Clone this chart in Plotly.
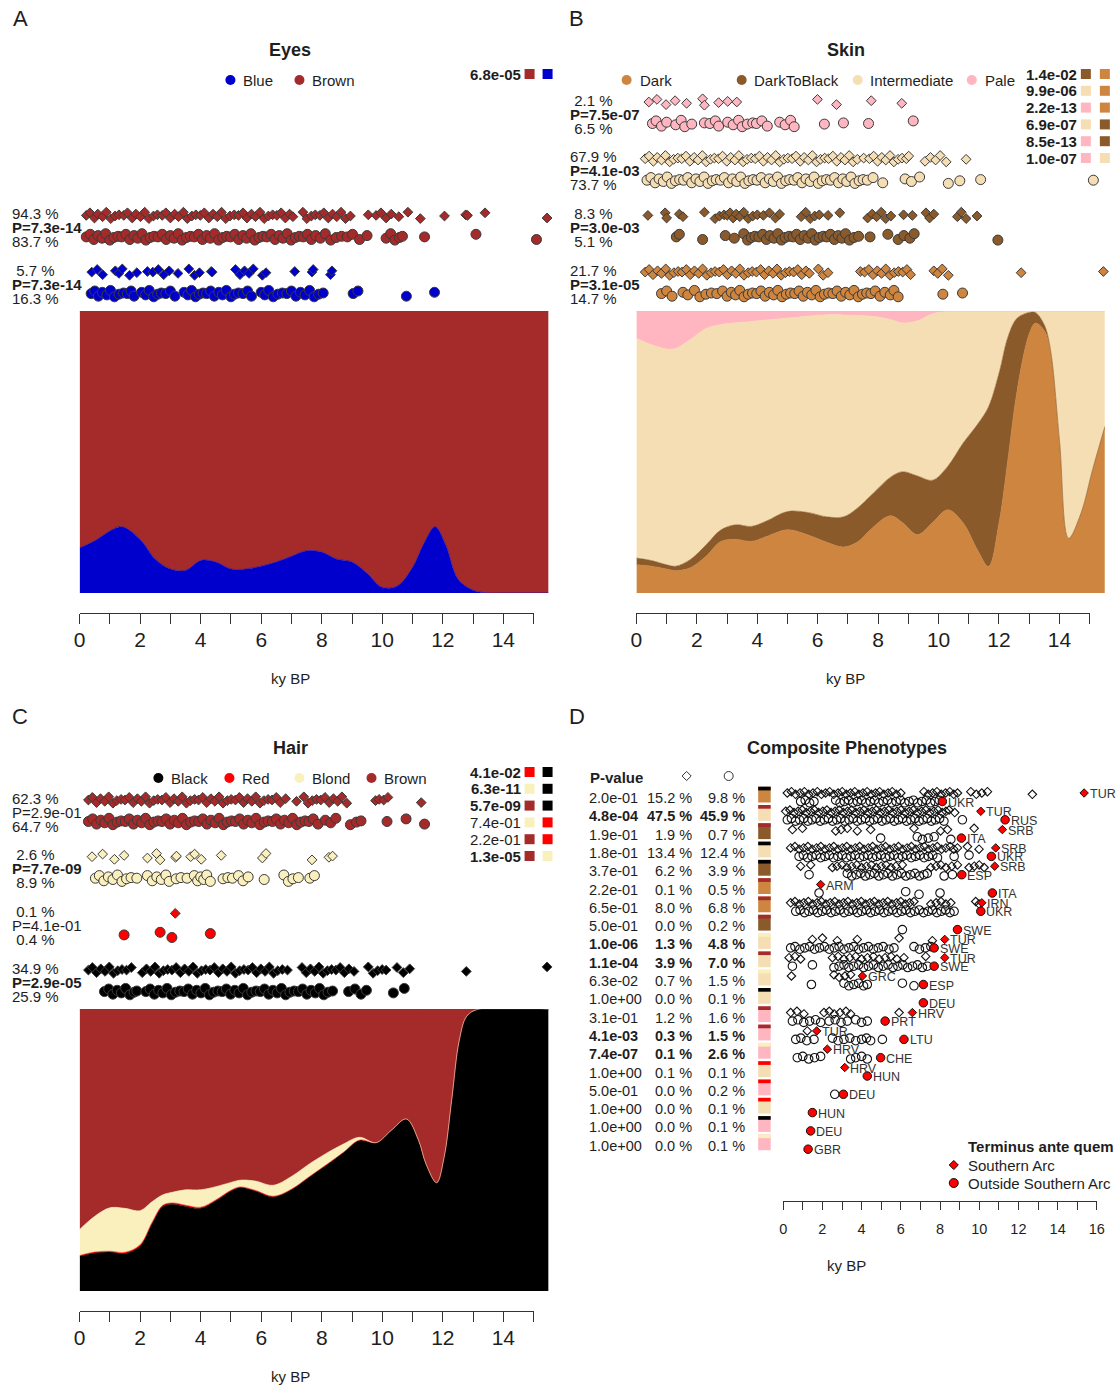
import plotly.graph_objects as go

W, H = 1120, 1386
# horizontal calibration of the rendered page (screen_x = SX * figure_x + OX)
SX, OX = 0.987, 5.7
FONT = "Liberation Sans, Arial, Helvetica, sans-serif"
TXT = "#1e1e1e"
LINE = "#333333"
EDGE = "#3a3a3a"

# ======================= DATA =======================
EYE_COL = {"Blue": "#0000CD", "Brown": "#A52A2A"}
SKIN_COL = {"Dark": "#CD853F", "DarkToBlack": "#8B5A2B", "Intermediate": "#F5DEB3", "Pale": "#FFB6C1"}
HAIR_COL = {"Black": "#000000", "Red": "#FF0000", "Blond": "#FAF0BE", "Brown": "#A52A2A"}

# ---- A: Eyes, proportion over time (ky BP) ----
eye_grid = [0, 0.5, 1.0, 1.4, 2.0, 2.5, 3.0, 3.5, 4.0, 4.5, 5.0, 5.5, 6.0, 6.5, 7.0, 7.5, 8.0, 8.5, 9.0, 9.5,
            10.0, 10.5, 11.0, 11.4, 11.75, 12.1, 12.5, 13.0, 13.5, 14.0, 15.5]
eye_blue_prop = [0.16, 0.185, 0.22, 0.235, 0.19, 0.12, 0.085, 0.08, 0.115, 0.11, 0.085, 0.085, 0.095, 0.11, 0.13,
                 0.15, 0.145, 0.12, 0.11, 0.07, 0.02, 0.025, 0.09, 0.18, 0.235, 0.17, 0.05, 0.01, 0.0, 0.0, 0.0]

eye_cats = ["Brown", "Blue"]
eye_pct_dia = [94.3, 5.7]
eye_pct_circ = [83.7, 16.3]
eye_p = [7.3e-14, 7.3e-14]
eye_dia = [
    [0.22, 0.34, 0.49, 0.6, 0.76, 0.88, 1.03, 1.17, 1.3, 1.46, 1.58, 1.74, 1.86, 2.01, 2.15, 2.29, 2.44, 2.57, 2.73,
     2.85, 3.0, 3.14, 3.27, 3.43, 3.56, 3.71, 3.84, 3.99, 4.12, 4.27, 4.41, 4.55, 4.69, 4.83, 4.97, 5.11, 5.25, 5.4,
     5.53, 5.68, 5.81, 5.96, 6.1, 6.24, 6.38, 6.52, 6.66, 6.8, 6.94, 7.05, 7.38, 7.51, 7.66, 7.79, 7.94, 8.07, 8.22,
     8.36, 8.5, 8.64, 8.79, 8.95, 9.54, 9.8, 9.96, 10.13, 10.3, 10.55, 10.85, 11.26, 12.06, 12.76, 12.82, 13.4, 15.45],
    [0.40, 0.58, 0.76, 1.18, 1.3, 1.41, 1.65, 1.89, 2.24, 2.42, 2.6, 2.78, 2.96, 3.25, 3.61, 3.8, 3.96, 4.35, 4.38,
     5.15, 5.3, 5.45, 5.6, 5.74, 6.04, 6.16, 7.11, 7.68, 7.72, 8.29, 8.34],
]
eye_circ = [
    [0.22, 0.35, 0.47, 0.61, 0.74, 0.86, 1.0, 1.13, 1.27, 1.39, 1.53, 1.66, 1.8, 1.92, 2.06, 2.19, 2.33, 2.46, 2.59,
     2.73, 2.86, 3.0, 3.12, 3.26, 3.39, 3.53, 3.66, 3.79, 3.93, 4.06, 4.2, 4.32, 4.46, 4.59, 4.73, 4.86, 4.99, 5.13,
     5.26, 5.4, 5.52, 5.66, 5.79, 5.93, 6.06, 6.19, 6.33, 6.46, 6.6, 6.72, 6.86, 6.99, 7.13, 7.26, 7.39, 7.53, 7.66,
     7.8, 7.96, 8.12, 8.3, 8.48, 8.66, 8.85, 9.02, 9.25, 9.5, 10.13, 10.28, 10.42, 10.57, 10.67, 11.4, 13.1, 15.1],
    [0.38, 0.5, 0.62, 0.75, 0.9, 1.02, 1.15, 1.3, 1.45, 1.58, 1.7, 1.8, 2.05, 2.18, 2.3, 2.45, 2.58, 2.7, 2.85, 3.0,
     3.15, 3.45, 3.58, 3.7, 3.83, 3.95, 4.08, 4.2, 4.33, 4.45, 4.6, 4.72, 4.85, 5.0, 5.12, 5.25, 5.4, 5.55, 5.68, 6.0,
     6.12, 6.25, 6.4, 6.55, 6.7, 6.85, 7.0, 7.15, 7.3, 7.45, 7.6, 7.75, 7.9, 8.05, 9.04, 9.2, 10.8, 11.73],
]
eye_pair_p = [6.8e-05]
eye_pairs = [("Brown", "Blue")]

# ---- B: Skin ----
skin_grid = [0, 0.5, 1.0, 1.3, 1.8, 2.3, 2.8, 3.3, 3.8, 4.3, 5.0, 5.7, 6.3, 6.85, 7.3, 7.8, 8.4, 8.8, 9.3, 9.8,
             10.3, 10.8, 11.3, 11.65, 12.0, 12.3, 12.6, 13.0, 13.2, 13.5, 13.7, 14.0, 14.3, 14.7, 15.1, 15.5]
skin_dark_prop = [0.10, 0.095, 0.085, 0.079, 0.09, 0.13, 0.183, 0.19, 0.183, 0.20, 0.224, 0.205, 0.18, 0.163, 0.18,
                  0.23, 0.274, 0.25, 0.207, 0.25, 0.295, 0.25, 0.15, 0.094, 0.25, 0.48, 0.72, 0.92, 0.957, 0.93,
                  0.86, 0.54, 0.194, 0.28, 0.44, 0.59]
skin_dtb_prop = [0.024, 0.02, 0.015, 0.016, 0.03, 0.04, 0.041, 0.052, 0.053, 0.055, 0.065, 0.08, 0.09, 0.107, 0.12,
                 0.12, 0.136, 0.18, 0.208, 0.15, 0.154, 0.28, 0.45, 0.566, 0.53, 0.43, 0.255, 0.075, 0.038, 0.02,
                 0.003, 0.0, 0.0, 0.0, 0.0, 0.0]
skin_pale_prop = [0.097, 0.12, 0.135, 0.133, 0.10, 0.062, 0.048, 0.042, 0.037, 0.032, 0.025, 0.018, 0.013, 0.014,
                  0.016, 0.019, 0.03, 0.042, 0.035, 0.01, 0.002, 0, 0, 0, 0, 0, 0, 0, 0, 0, 0, 0, 0, 0, 0, 0]

skin_cats = ["Pale", "Intermediate", "DarkToBlack", "Dark"]
skin_pct_dia = [2.1, 67.9, 8.3, 21.7]
skin_pct_circ = [6.5, 73.7, 5.1, 14.7]
skin_p = [7.5e-07, 4.1e-03, 3.0e-03, 3.1e-05]
skin_dia = [
    [0.41, 0.68, 0.98, 1.28, 1.66, 2.19, 2.25, 2.72, 3.02, 3.32, 5.99, 6.62, 7.77, 8.78],
    [0.29, 0.42, 0.56, 0.69, 0.83, 0.96, 1.1, 1.23, 1.37, 1.5, 1.64, 1.77, 1.91, 2.04, 2.18, 2.31, 2.45, 2.58, 2.72,
     2.85, 2.99, 3.12, 3.26, 3.39, 3.53, 3.66, 3.8, 3.93, 4.07, 4.2, 4.34, 4.47, 4.61, 4.74, 4.88, 5.01, 5.15, 5.28,
     5.42, 5.55, 5.69, 5.82, 5.96, 6.09, 6.23, 6.36, 6.5, 6.63, 6.77, 6.9, 7.04, 7.17, 7.31, 7.52, 7.71, 7.85, 7.98,
     8.12, 8.25, 8.39, 8.52, 8.66, 8.79, 8.93, 9.01, 9.55, 9.73, 9.9, 10.05, 10.25, 10.91],
    [0.38, 0.95, 1.0, 1.42, 1.54, 2.25, 2.6, 2.75, 2.9, 3.0, 3.1, 3.2, 3.3, 3.42, 3.55, 3.7, 3.85, 4.0, 4.2, 4.4, 4.6,
     4.74, 5.45, 5.6, 5.75, 5.9, 6.05, 6.34, 6.73, 7.65, 7.8, 7.95, 8.1, 8.25, 8.42, 8.84, 9.13, 9.58, 9.7, 9.84,
     10.62, 10.75, 10.91, 11.27],
    [0.29, 0.42, 0.55, 0.7, 0.83, 0.97, 1.1, 1.24, 1.38, 1.51, 1.65, 1.78, 1.92, 2.06, 2.19, 2.33, 2.47, 2.6, 2.74,
     2.88, 3.01, 3.15, 3.29, 3.42, 3.56, 3.7, 3.83, 3.97, 4.11, 4.24, 4.38, 4.52, 4.65, 4.79, 4.93, 5.06, 5.2, 5.34,
     5.47, 5.61, 5.72, 6.02, 6.18, 6.34, 7.41, 7.55, 7.69, 7.83, 7.97, 8.11, 8.25, 8.39, 8.53, 8.67, 8.81, 8.95, 9.07,
     9.84, 9.97, 10.12, 10.32, 12.73, 15.45],
]
skin_circ = [
    [0.53, 0.65, 0.83, 1.0, 1.3, 1.48, 1.6, 1.83, 2.25, 2.43, 2.61, 2.72, 3.02, 3.2, 3.38, 3.5, 3.67, 3.85, 3.97, 4.15,
     4.33, 4.74, 4.92, 5.1, 5.22, 6.22, 6.85, 7.68, 9.16],
    [0.35, 0.48, 0.62, 0.75, 0.89, 1.02, 1.16, 1.29, 1.43, 1.56, 1.7, 1.83, 1.97, 2.1, 2.24, 2.37, 2.51, 2.64, 2.78,
     2.91, 3.05, 3.18, 3.32, 3.45, 3.59, 3.72, 3.86, 3.99, 4.13, 4.26, 4.4, 4.53, 4.67, 4.8, 4.94, 5.07, 5.21, 5.34,
     5.48, 5.61, 5.75, 5.88, 6.02, 6.15, 6.29, 6.42, 6.56, 6.69, 6.83, 6.96, 7.1, 7.23, 7.37, 7.5, 7.64, 7.83, 8.15,
     8.89, 9.1, 9.37, 10.32, 10.7, 11.39, 15.12],
    [1.32, 1.42, 2.19, 2.94, 3.24, 3.55, 3.68, 3.8, 3.92, 4.05, 4.18, 4.3, 4.42, 4.55, 4.68, 4.8, 4.92, 5.05, 5.18, 5.3,
     5.42, 5.55, 5.68, 5.8, 5.92, 6.05, 6.18, 6.3, 6.42, 6.55, 6.68, 6.8, 6.92, 7.05, 7.2, 7.35, 7.73, 8.32, 8.66,
     8.85, 9.05, 9.19, 11.96],
    [0.83, 1.0, 1.18, 1.54, 1.7, 1.92, 2.1, 2.3, 2.48, 2.66, 2.85, 3.0, 3.14, 3.28, 3.42, 3.56, 3.7, 3.84, 3.98, 4.12,
     4.26, 4.4, 4.54, 4.68, 4.82, 4.96, 5.1, 5.24, 5.38, 5.52, 5.66, 5.8, 5.94, 6.08, 6.22, 6.36, 6.5, 6.64, 6.78,
     6.92, 7.06, 7.2, 7.34, 7.48, 7.62, 7.76, 7.9, 8.06, 8.22, 8.4, 8.52, 8.66, 10.14, 10.79],
]
skin_pair_p = [1.4e-02, 9.9e-06, 2.2e-13, 6.9e-07, 8.5e-13, 1.0e-07]
skin_pairs = [("DarkToBlack", "Dark"), ("Intermediate", "Dark"), ("Pale", "Dark"),
              ("Intermediate", "DarkToBlack"), ("Pale", "DarkToBlack"), ("Pale", "Intermediate")]

# ---- C: Hair ----
hair_grid = [0, 0.5, 1.0, 1.5, 2.0, 2.4, 2.75, 3.1, 3.5, 4.0, 4.5, 5.0, 5.3, 5.8, 6.4, 7.0, 7.6, 8.2, 8.7, 9.25,
             9.8, 10.3, 10.8, 11.2, 11.45, 11.8, 12.05, 12.3, 12.55, 12.8, 13.2, 15.5]
hair_black_prop = [0.123, 0.135, 0.138, 0.133, 0.16, 0.24, 0.30, 0.308, 0.30, 0.293, 0.32, 0.355, 0.367, 0.355,
                   0.334, 0.36, 0.405, 0.45, 0.49, 0.535, 0.526, 0.57, 0.61, 0.535, 0.45, 0.384, 0.476, 0.68, 0.89,
                   0.975, 1.0, 1.0]
hair_red_prop = [0.003, 0.003, 0.003, 0.004, 0.004, 0.004, 0.004, 0.004, 0.004, 0.004, 0.003, 0.002, 0.002, 0.002,
                 0.002, 0.001, 0.001, 0.001, 0, 0, 0, 0, 0, 0, 0, 0, 0, 0, 0, 0, 0, 0]
hair_blond_prop = [0.092, 0.127, 0.154, 0.156, 0.121, 0.073, 0.037, 0.039, 0.055, 0.062, 0.047, 0.028, 0.024, 0.033,
                   0.039, 0.045, 0.045, 0.04, 0.03, 0.01, 0, 0, 0, 0, 0, 0, 0, 0, 0, 0, 0, 0]

hair_cats = ["Brown", "Blond", "Red", "Black"]
hair_pct_dia = [62.3, 2.6, 0.1, 34.9]
hair_pct_circ = [64.7, 8.9, 0.4, 25.9]
hair_p = [2.9e-01, 7.7e-09, 4.1e-01, 2.9e-05]
hair_dia = [
    [0.29, 0.42, 0.56, 0.69, 0.83, 0.96, 1.1, 1.23, 1.37, 1.5, 1.64, 1.77, 1.91, 2.04, 2.18, 2.31, 2.45, 2.58, 2.72,
     2.85, 2.99, 3.12, 3.26, 3.39, 3.53, 3.66, 3.8, 3.93, 4.07, 4.2, 4.34, 4.47, 4.61, 4.74, 4.88, 5.01, 5.15, 5.28,
     5.42, 5.55, 5.69, 5.82, 5.96, 6.09, 6.23, 6.36, 6.5, 6.63, 6.81, 7.17, 7.41, 7.55, 7.69, 7.83, 7.97, 8.11, 8.25,
     8.39, 8.53, 8.67, 8.83, 9.78, 9.9, 10.05, 10.19, 11.29],
    [0.41, 0.76, 1.15, 1.47, 2.24, 2.54, 2.66, 3.17, 3.2, 3.67, 3.8, 4.02, 4.68, 6.04, 6.16, 7.68, 8.24, 8.36],
    [3.16],
    [0.29, 0.42, 0.56, 0.7, 0.84, 0.98, 1.12, 1.26, 1.4, 1.55, 1.71, 2.07, 2.21, 2.35, 2.49, 2.63, 2.77, 2.91, 3.05,
     3.19, 3.33, 3.47, 3.61, 3.75, 3.89, 4.03, 4.17, 4.31, 4.45, 4.59, 4.73, 4.87, 5.01, 5.15, 5.29, 5.43, 5.57, 5.71,
     5.85, 5.99, 6.13, 6.27, 6.41, 6.55, 6.7, 6.87, 7.35, 7.49, 7.63, 7.77, 7.91, 8.05, 8.19, 8.33, 8.47, 8.61, 8.75,
     8.9, 9.07, 9.54, 9.7, 9.85, 10.0, 10.13, 10.49, 10.7, 10.91, 12.78, 15.45],
]
hair_circ = [
    [0.29, 0.43, 0.56, 0.7, 0.83, 0.97, 1.1, 1.24, 1.37, 1.51, 1.64, 1.78, 1.91, 2.05, 2.18, 2.32, 2.45, 2.59, 2.72,
     2.86, 2.99, 3.13, 3.26, 3.4, 3.53, 3.67, 3.8, 3.94, 4.07, 4.21, 4.34, 4.48, 4.61, 4.75, 4.88, 5.02, 5.15, 5.29,
     5.42, 5.56, 5.69, 5.83, 5.96, 6.1, 6.23, 6.37, 6.5, 6.64, 6.77, 6.91, 7.04, 7.18, 7.31, 7.45, 7.58, 7.72, 7.88,
     8.12, 8.3, 8.47, 8.95, 9.15, 9.3, 10.16, 10.79, 11.4],
    [0.52, 0.65, 0.8, 0.95, 1.1, 1.25, 1.4, 1.55, 1.7, 1.89, 2.24, 2.4, 2.55, 2.7, 2.85, 2.96, 3.19, 3.35, 3.55, 3.79,
     3.9, 4.0, 4.1, 4.2, 4.32, 4.74, 4.9, 5.05, 5.25, 5.4, 5.57, 6.1, 6.75, 6.9, 7.05, 7.23, 7.61, 7.76],
    [1.47, 2.66, 3.05, 4.32],
    [0.82, 0.96, 1.1, 1.24, 1.38, 1.52, 1.66, 1.8, 1.89, 2.19, 2.33, 2.47, 2.61, 2.75, 2.89, 3.03, 3.17, 3.31, 3.45,
     3.59, 3.73, 3.87, 4.01, 4.15, 4.29, 4.43, 4.57, 4.71, 4.85, 4.99, 5.13, 5.27, 5.41, 5.55, 5.69, 5.83, 5.97, 6.11,
     6.25, 6.39, 6.53, 6.67, 6.81, 6.95, 7.09, 7.23, 7.37, 7.51, 7.65, 7.79, 7.93, 8.07, 8.21, 8.36, 8.89, 9.1, 9.3,
     9.48, 10.37, 10.73],
]
hair_pair_p = [4.1e-02, 6.3e-11, 5.7e-09, 7.4e-01, 2.2e-01, 1.3e-05]
hair_pairs = [("Red", "Black"), ("Blond", "Black"), ("Brown", "Black"), ("Blond", "Red"), ("Brown", "Red"),
              ("Brown", "Blond")]

# ---- D: Composite phenotypes ----
comp_p = [2.0e-01, 4.8e-04, 1.9e-01, 1.8e-01, 3.7e-01, 2.2e-01, 6.5e-01, 5.0e-01, 1.0e-06, 1.1e-04, 6.3e-02, 1.0e+00,
          3.1e-01, 4.1e-03, 7.4e-07, 1.0e+00, 5.0e-01, 1.0e+00, 1.0e+00, 1.0e+00]
comp_pct_dia = [15.2, 47.5, 1.9, 13.4, 6.2, 0.1, 8.0, 0.0, 1.3, 3.9, 0.7, 0.0, 1.2, 0.3, 0.1, 0.1, 0.0, 0.0, 0.0, 0.0]
comp_pct_circ = [9.8, 45.9, 0.7, 12.4, 3.9, 0.5, 6.8, 0.2, 4.8, 7.0, 1.5, 0.1, 1.6, 1.5, 2.6, 0.1, 0.2, 0.1, 0.1, 0.1]
comp_hair = ["Black", "Brown", "Brown", "Black", "Black", "Brown", "Brown", "Brown", "Blond", "Brown", "Blond", "Black",
             "Brown", "Brown", "Blond", "Red", "Red", "Red", "Black", "Blond"]
comp_skin = ["Dark", "Intermediate", "DarkToBlack", "Intermediate", "DarkToBlack", "Dark", "Dark", "DarkToBlack",
             "Intermediate", "Intermediate", "Intermediate", "Intermediate", "Pale", "Pale", "Pale", "Intermediate",
             "Pale", "Intermediate", "Pale", "Pale"]
comp_eye = ["Brown", "Brown", "Brown", "Brown", "Brown", "Blue", "Brown", "Blue", "Blue", "Blue", "Brown", "Blue",
            "Brown", "Blue", "Blue", "Brown", "Blue", "Blue", "Brown", "Brown"]
comp_dia = [
    [0.21, 0.42, 0.63, 0.86, 1.08, 1.3, 1.52, 1.74, 1.95, 2.16, 2.37, 2.58, 2.8, 3.01, 3.22, 3.43, 3.65, 3.86, 4.07,
     4.28, 4.5, 4.71, 4.92, 5.13, 5.35, 5.56, 5.77, 6.0, 7.18, 7.4, 7.62, 7.84, 8.06, 8.28, 8.5, 8.7, 8.89, 9.57, 9.85,
     10.13, 10.42, 12.71],
    [0.13, 0.34, 0.55, 0.76, 0.97, 1.18, 1.39, 1.6, 1.81, 2.02, 2.23, 2.44, 2.65, 2.86, 3.07, 3.28, 3.49, 3.7, 3.91,
     4.12, 4.33, 4.54, 4.75, 4.96, 5.17, 5.38, 5.59, 5.8, 6.01, 6.22, 6.43, 6.64, 6.85, 7.06, 7.27, 7.48, 7.69, 7.9,
     8.11, 8.3, 8.46, 8.75],
    [0.47, 0.98, 2.68, 2.95, 3.27, 3.78, 4.46, 6.67, 8.03, 8.38, 9.74],
    [0.38, 0.6, 0.82, 1.04, 1.26, 1.48, 1.7, 1.92, 2.14, 2.36, 2.58, 2.8, 3.02, 3.24, 3.46, 3.68, 3.9, 4.12, 4.34, 4.56,
     4.78, 5.0, 5.22, 5.44, 5.66, 5.88, 6.1, 6.32, 6.54, 6.76, 6.98, 7.2, 7.42, 7.64, 7.86, 8.08, 8.3, 8.52, 8.7, 8.89,
     9.4, 9.99],
    [0.89, 1.4, 2.51, 2.75, 3.0, 3.25, 3.5, 3.75, 4.0, 4.25, 4.5, 4.75, 5.0, 5.25, 5.5, 5.75, 6.08, 7.53, 7.8, 8.05,
     8.3, 8.6, 8.89, 9.48, 9.75, 10.0, 10.25],
    [],
    [0.38, 0.6, 0.83, 1.05, 1.28, 1.5, 1.73, 1.95, 2.18, 2.4, 2.63, 2.85, 3.08, 3.3, 3.53, 3.75, 3.98, 4.2, 4.43, 4.65,
     4.88, 5.1, 5.33, 5.55, 5.78, 6.0, 6.23, 6.45, 6.67, 7.53, 7.8, 8.05, 8.3, 8.55, 9.82, 9.99],
    [],
    [1.49, 2.0, 2.76, 3.78, 5.91, 7.61],
    [0.3, 0.6, 0.89, 2.51, 2.8, 3.1, 3.4, 3.7, 4.0, 4.3, 4.6, 4.9, 5.2, 5.5, 5.8, 6.16, 7.27],
    [0.42, 2.59, 2.85, 3.15, 3.44],
    [],
    [0.38, 0.7, 1.06, 2.08, 2.35, 2.6, 2.9, 3.2, 3.44, 5.91],
    [1.23],
    [], [], [], [], [], [],
]
comp_circ = [
    [0.89, 1.12, 1.35, 1.57, 2.68, 2.9, 3.12, 3.34, 3.56, 3.78, 4.0, 4.22, 4.44, 4.66, 4.88, 5.1, 5.32, 5.54, 5.76,
     5.98, 6.2, 6.42, 6.64, 6.86, 7.08, 7.3, 7.52, 7.74, 7.96],
    [0.21, 0.42, 0.63, 0.84, 1.05, 1.26, 1.47, 1.68, 1.89, 2.1, 2.31, 2.52, 2.73, 2.94, 3.15, 3.36, 3.57, 3.78, 3.99,
     4.2, 4.41, 4.62, 4.83, 5.04, 5.25, 5.46, 5.67, 5.88, 6.09, 6.3, 6.51, 6.72, 6.93, 7.14, 7.35, 7.56, 7.77, 7.98,
     8.2, 9.14],
    [4.97, 6.84, 7.1, 7.4, 7.7, 8.55],
    [0.81, 1.03, 1.25, 1.47, 1.69, 1.91, 2.13, 2.35, 2.57, 2.79, 3.01, 3.23, 3.45, 3.67, 3.89, 4.11, 4.33, 4.55, 4.77,
     4.99, 5.21, 5.43, 5.65, 5.87, 6.09, 6.31, 6.53, 6.75, 6.97, 7.19, 7.41, 7.63, 7.87, 8.72, 9.48],
    [1.32, 3.27, 3.5, 3.73, 3.96, 4.19, 4.42, 4.65, 4.88, 5.11, 5.34, 5.57, 5.8, 6.03, 6.26, 6.49, 6.72, 6.95, 7.18,
     7.35, 8.21, 8.63],
    [1.83, 6.25, 6.93, 8.0],
    [0.64, 0.86, 1.09, 1.31, 1.54, 1.76, 1.99, 2.21, 2.44, 2.66, 2.89, 3.11, 3.34, 3.56, 3.79, 4.01, 4.24, 4.46, 4.69,
     4.91, 5.14, 5.36, 5.59, 5.81, 6.04, 6.26, 6.49, 6.71, 6.94, 7.16, 7.39, 7.61, 7.84, 8.06, 8.29, 8.51, 8.72],
    [6.08],
    [0.38, 0.6, 0.85, 1.1, 1.35, 1.6, 1.85, 2.1, 2.35, 2.6, 2.85, 3.1, 3.35, 3.6, 3.85, 4.1, 4.35, 4.6, 4.85, 5.1, 5.4,
     5.65, 6.67, 6.95, 7.25, 7.53],
    [0.47, 1.49, 2.59, 2.85, 3.1, 3.35, 3.6, 3.85, 4.1, 4.35, 4.6, 4.85, 5.1, 5.35, 5.6, 5.85, 6.1, 6.35, 6.6, 6.85,
     7.1, 7.35],
    [1.44, 3.1, 3.35, 3.6, 3.85, 4.1, 4.29, 6.08, 6.67],
    [],
    [0.47, 0.75, 1.05, 1.35, 1.65, 1.91, 2.34, 2.65, 2.95, 3.27, 3.7, 4.0, 4.29],
    [0.64, 0.9, 1.2, 1.57, 2.51, 2.8, 3.1, 3.4, 3.7, 4.0, 4.25, 4.46, 5.06],
    [0.72, 1.0, 1.3, 1.6, 1.91, 3.44, 3.7, 4.0, 4.29],
    [],
    [2.63],
    [], [], [],
]
# oldest sample (terminus ante quem) per row: (ky BP, country)
comp_taq_dia = [(15.35, "TUR"), (10.08, "TUR"), (11.18, "SRB"), (10.84, "SRB"), (10.79, "SRB"), (1.91, "ARM"),
                (10.13, "IRN"), None, (8.24, "TUR"), (8.24, "TUR"), (4.04, "GRC"), None, (6.59, "HRV"),
                (1.71, "TUR"), (2.25, "HRV"), (3.14, "HRV"), None, None, None, None]
comp_taq_circ = [(8.12, "UKR"), (11.32, "RUS"), (9.09, "ITA"), (10.62, "UKR"), (9.11, "ESP"), (10.67, "ITA"),
                 (10.08, "UKR"), (8.89, "SWE"), (7.7, "SWE"), (7.7, "SWE"), (7.15, "ESP"), (7.15, "DEU"),
                 (5.2, "PRT"), (6.16, "LTU"), (4.97, "CHE"), (4.29, "HUN"), (3.07, "DEU"), (1.49, "HUN"),
                 (1.4, "DEU"), (1.27, "GBR")]

# ======================= FIGURE =======================
fig = go.Figure()
ann = []
shapes = []


def fx(p):
    """screen pixel -> figure pixel (horizontal)"""
    return (p - OX) / SX


def xdom(a, b):
    return [max(0.0, fx(a) / W), min(1.0, fx(b) / W)]


def ydom(top, bottom):
    return [1 - bottom / H, 1 - top / H]


def T(x, y, s, size=15, bold=False, anchor="left", color=TXT, xref="x", yref="y", xshift=0):
    ann.append(dict(x=x, y=y, xref=xref, yref=yref, text=(f"<b>{s}</b>" if bold else s), showarrow=False,
                    xanchor=anchor, yanchor="middle", xshift=xshift / SX, borderpad=0,
                    font=dict(family=FONT, size=size, color=color)))


def glyph(xs, ys, symbol, size, color, edge=None, lw=0, xaxis="x"):
    fig.add_trace(go.Scatter(x=xs, y=ys, xaxis=xaxis, yaxis="y", mode="markers",
                             marker=dict(symbol=symbol, size=size, color=color,
                                         line=dict(color=edge if edge else color, width=lw)),
                             cliponaxis=False, hoverinfo="skip", showlegend=False))


JIT = [0, -2.6, 2.6, -1.3, 1.3, -3.2, 3.2, 0.6, -0.6]


def strip(xaxis, xs, ybase, symbol, size, color, jit=JIT, edge=EDGE, lw=1):
    if not xs:
        return
    ys = [ybase + jit[i % len(jit)] for i in range(len(xs))]
    glyph(xs, ys, symbol, size, color, edge, lw, xaxis)


def fmt_pct(v):
    s = f"{v:4.1f}"
    n = len(s) - len(s.lstrip(" "))
    return "\u00a0" * n + s.lstrip(" ") + " %"


def area(xaxis, yaxis, grid, layers, colors):
    run = [0.0] * len(grid)
    for i, (lay, col) in enumerate(zip(layers, colors)):
        run = [a + b for a, b in zip(run, lay)]
        fig.add_trace(go.Scatter(x=grid, y=run, xaxis=xaxis, yaxis=yaxis, mode="lines",
                                 line=dict(width=0.6, shape="spline", smoothing=1.0, color=col),
                                 fill="tozeroy" if i == 0 else "tonexty", fillcolor=col,
                                 hoverinfo="skip", showlegend=False))


def remainder(*layers):
    return [max(0.0, 1.0 - sum(v)) for v in zip(*layers)]


def strip_panel(xaxis, cats, cols, dia, circ, pct_d, pct_c, pvals, slots, dy, label_x):
    for k, cat in enumerate(cats):
        yc = 114 + 56.7 * slots[k] + dy
        strip(xaxis, dia[k], yc - 12, "diamond", 7.5, cols[cat])
        strip(xaxis, circ[k], yc + 9.5, "circle", 10, cols[cat])
        T(label_x, yc - 14, fmt_pct(pct_d[k]))
        T(label_x, yc, f"P={pvals[k]:.1e}", bold=pvals[k] < 0.05)
        T(label_x, yc + 14, fmt_pct(pct_c[k]))


def pair_legend(pvals, pairs, cols, x_text, x_sq1, x_sq2, y0):
    for i, (p, (a, b)) in enumerate(zip(pvals, pairs)):
        y = y0 + 16.8 * i
        T(x_text, y, f"{p:.1e}", bold=p < 0.05, anchor="right")
        glyph([x_sq1, x_sq2], [y, y], "square", 10, [cols[a], cols[b]])


def cat_legend(cats, cols, dot_x, text_x, y):
    glyph(dot_x, [y] * len(cats), "circle", 10, [cols[c] for c in cats])
    for c, tx in zip(cats, text_x):
        T(tx, y, c)


# ---------- area plots ----------
area("x2", "y2", eye_grid, [eye_blue_prop, remainder(eye_blue_prop)],
     [EYE_COL["Blue"], EYE_COL["Brown"]])
skin_int_prop = remainder(skin_dark_prop, skin_dtb_prop, skin_pale_prop)
area("x3", "y3", skin_grid, [skin_dark_prop, skin_dtb_prop, skin_int_prop, skin_pale_prop],
     [SKIN_COL["Dark"], SKIN_COL["DarkToBlack"], SKIN_COL["Intermediate"], SKIN_COL["Pale"]])
area("x4", "y4", hair_grid,
     [hair_black_prop, hair_red_prop, hair_blond_prop, remainder(hair_black_prop, hair_red_prop, hair_blond_prop)],
     [HAIR_COL["Black"], HAIR_COL["Red"], HAIR_COL["Blond"], HAIR_COL["Brown"]])

# ---------- strips ----------
strip_panel("x2", eye_cats, EYE_COL, eye_dia, eye_circ, eye_pct_dia, eye_pct_circ, eye_p, [2, 3], 0, 11)
strip_panel("x3", skin_cats, SKIN_COL, skin_dia, skin_circ, skin_pct_dia, skin_pct_circ, skin_p, [0, 1, 2, 3], 0, 568)
strip_panel("x4", hair_cats, HAIR_COL, hair_dia, hair_circ, hair_pct_dia, hair_pct_circ, hair_p, [0, 1, 2, 3], 698, 11)

# ---------- legends ----------
cat_legend(["Blue", "Brown"], EYE_COL, [230, 299], [242, 311], 80)
cat_legend(["Dark", "DarkToBlack", "Intermediate", "Pale"], SKIN_COL, [626, 741, 857, 971], [638, 752, 868, 983], 80)
cat_legend(["Black", "Red", "Blond", "Brown"], HAIR_COL, [158, 229, 299, 371], [170, 241, 311, 383], 778)
pair_legend(eye_pair_p, eye_pairs, EYE_COL, 521, 529, 547, 74)
pair_legend(skin_pair_p, skin_pairs, SKIN_COL, 1077, 1085, 1104, 74)
pair_legend(hair_pair_p, hair_pairs, HAIR_COL, 521, 529, 547, 772)

# ---------- titles / labels ----------
for lab, x, y in [("A", 20, 18), ("B", 576, 18), ("C", 20, 716), ("D", 576, 716)]:
    T(x, y, lab, size=22, anchor="center")
for t, x, y in [("Eyes", 290, 50), ("Skin", 845, 50), ("Hair", 290, 748), ("Composite Phenotypes", 846, 748)]:
    T(x, y, t, size=18, bold=True, anchor="center")
for x, y in [(290, 678), (845, 678), (290, 1376), (846, 1265)]:
    T(x, y, "ky BP", size=15, anchor="center")

# ---------- D table, icons and points ----------
ROW0, ROWH = 798, 18.3
T(588, 777, "P-value", bold=True)
glyph([686], [776], "diamond-open", 7, LINE, LINE, 1)
glyph([728], [776], "circle-open", 9, LINE, LINE, 1)
DJIT = [0, -1.3, 1.3]
eye_x, eye_y, eye_c = [], [], []
for i in range(len(comp_p)):
    ry = ROW0 + ROWH * i
    bold = comp_p[i] < 0.05
    T(587, ry, f"{comp_p[i]:.1e}", size=14.5, bold=bold)
    T(692, ry, f"{comp_pct_dia[i]:.1f} %", size=14.5, bold=bold, anchor="right")
    T(745, ry, f"{comp_pct_circ[i]:.1f} %", size=14.5, bold=bold, anchor="right")
    shapes.append(dict(type="rect", xref="x", yref="y", x0=757.5, x1=770, y0=ry - 11.3, y1=ry + 4.5,
                       fillcolor=SKIN_COL[comp_skin[i]], line=dict(width=0), layer="above"))
    shapes.append(dict(type="rect", xref="x", yref="y", x0=757.5, x1=770, y0=ry - 11.3, y1=ry - 7.6,
                       fillcolor=HAIR_COL[comp_hair[i]], line=dict(width=0), layer="above"))
    eye_x.append(763.8)
    eye_y.append(ry - 1.2)
    eye_c.append(EYE_COL[comp_eye[i]])
    strip("x5", comp_dia[i], ry - 5, "diamond-open", 6.5, "#111111", DJIT, "#111111", 1.1)
    strip("x5", comp_circ[i], ry + 3.5, "circle-open", 8.5, "#111111", DJIT, "#111111", 1.1)
    if comp_taq_dia[i]:
        xv, lab = comp_taq_dia[i]
        glyph([xv], [ry - 5], "diamond", 6.5, "#FF0000", "#111111", 1, "x5")
        T(xv, ry - 4, lab, size=12.5, color="#333333", xref="x5", xshift=4.5)
    if comp_taq_circ[i]:
        xv, lab = comp_taq_circ[i]
        glyph([xv], [ry + 3.5], "circle", 8.5, "#FF0000", "#111111", 1, "x5")
        T(xv, ry + 4.5, lab, size=12.5, color="#333333", xref="x5", xshift=4.5)
glyph(eye_x, eye_y, "circle", 6.5, eye_c, "#FFFFFF", 1.3)

# D legend
T(966, 1146, "Terminus ante quem", bold=True)
glyph([953], [1165], "diamond", 7, "#FF0000", "#111111", 1)
glyph([953], [1183], "circle", 9, "#FF0000", "#111111", 1)
T(966, 1165, "Southern Arc")
T(966, 1183, "Outside Southern Arc")

# dummy traces to register tick axes
for ax in ["x6", "x7", "x8", "x9"]:
    fig.add_trace(go.Scatter(x=[0], y=[-100], xaxis=ax, yaxis="y", mode="markers",
                             marker=dict(opacity=0), hoverinfo="skip", showlegend=False))


# ======================= LAYOUT =======================
def tick_axis(x0, x1, rng, ypix, fsize, tlen, standoff):
    return dict(domain=xdom(x0, x1), range=rng, anchor="free", position=1 - ypix / H, showline=True,
                linecolor=LINE, linewidth=1, ticks="outside", ticklen=tlen, tickwidth=1, tickcolor=LINE,
                tick0=0, dtick=2, minor=dict(dtick=1, ticks="outside", ticklen=tlen, tickwidth=1, tickcolor=LINE,
                                              showgrid=False),
                showgrid=False, zeroline=False, ticklabelstandoff=standoff,
                tickfont=dict(size=fsize, color=TXT, family=FONT), fixedrange=True)


hidden = dict(visible=False, fixedrange=True, showgrid=False, zeroline=False)
layout = dict(
    width=W, height=H, margin=dict(l=0, r=0, t=0, b=0), paper_bgcolor="white", plot_bgcolor="rgba(0,0,0,0)",
    showlegend=False, annotations=ann, shapes=shapes, font=dict(family=FONT, color=TXT),
    # global "screen pixel" axes used for texts, legends and icons
    xaxis=dict(domain=[0, 1], range=[OX, OX + SX * W], **hidden),
    yaxis=dict(domain=[0, 1], range=[H, 0], **hidden),
    xaxis2=dict(domain=xdom(79.3, 548), range=[0, 15.5], **hidden),
    xaxis3=dict(domain=xdom(635.8, 1104), range=[0, 15.5], **hidden),
    xaxis4=dict(domain=xdom(79.3, 548), range=[0, 15.5], **hidden),
    xaxis5=dict(domain=xdom(782.5, 1096), range=[0, 16], **hidden),
    yaxis2=dict(domain=ydom(311, 593), range=[0, 1], **hidden),
    yaxis3=dict(domain=ydom(311, 593), range=[0, 1], **hidden),
    yaxis4=dict(domain=ydom(1009, 1291), range=[0, 1], **hidden),
    xaxis6=tick_axis(79.3, 533.05, [0, 15], 613, 21, 9.5, -2),
    xaxis7=tick_axis(635.8, 1088.8, [0, 15], 613, 21, 9.5, -2),
    xaxis8=tick_axis(79.3, 533.05, [0, 15], 1311, 21, 9.5, -2),
    xaxis9=tick_axis(782.5, 1096, [0, 16], 1201, 14.5, 8, 7),
)
fig.update_layout(**layout)

fig.write_html("out.html", config={"displayModeBar": False},
               post_script="document.documentElement.style.overflow='hidden';"
                           "document.body.style.margin='0px';document.body.style.overflow='hidden';")
